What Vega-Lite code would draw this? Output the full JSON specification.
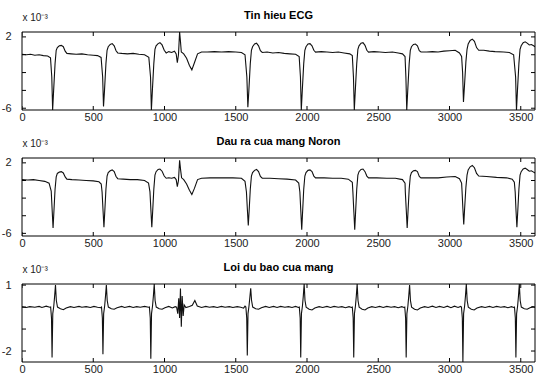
{
"$schema": "https://vega.github.io/schema/vega-lite/v6.json",
"padding": {"left": 1, "top": 10, "right": 2, "bottom": 2},
"background": "white",
"config": {
 "font": "Liberation Sans",
 "view": {"stroke": null},
 "axis": {"domain": false, "grid": false, "ticks": false, "labelFont": "Liberation Sans", "labelFontSize": 11, "labelColor": "#222", "titleFont": "Liberation Sans", "labelOverlap": false, "labelFlush": false},
 "axisX": {"labelPadding": 1},
 "axisY": {"labelPadding": 11},
 "title": {"anchor": "middle", "frame": "group", "offset": -9, "fontSize": 11, "fontWeight": "bold", "font": "Liberation Sans", "color": "#000"},
 "concat": {"spacing": 48}
},
"bounds": "flush",
"datasets": {
 "frame": [{"k": 1}],
 "xt": [{"v":0},{"v":500},{"v":1000},{"v":1500},{"v":2000},{"v":2500},{"v":3000},{"v":3500}],
 "yt1": [{"v":-6},{"v":-4},{"v":-2},{"v":0},{"v":2}],
 "yt3": [{"v":-2},{"v":-1},{"v":0},{"v":1}],
 "ecg": [
 {"x":0,"y":0.05},{"x":30,"y":0.0},{"x":60,"y":0.05},{"x":90,"y":-0.05},{"x":120,"y":0.0},{"x":150,"y":-0.1},{"x":180,"y":-0.15},{"x":200,"y":-0.35},
 {"x":209,"y":-2.5},{"x":215,"y":-6.2},{"x":222,"y":-4},{"x":232,"y":-1},{"x":240,"y":0.5},{"x":248,"y":0.8},{"x":262,"y":1.0},{"x":276,"y":1.05},{"x":290,"y":0.9},{"x":303,"y":0.4},{"x":315,"y":0.15},{"x":345,"y":0.1},{"x":380,"y":0.05},{"x":420,"y":0.1},{"x":460,"y":0.0},{"x":500,"y":-0.05},{"x":530,"y":-0.1},{"x":555,"y":-0.3},
 {"x":566,"y":-2.5},{"x":572,"y":-5.8},{"x":579,"y":-4},{"x":589,"y":-1},{"x":597,"y":0.5},{"x":605,"y":0.9},{"x":619,"y":1.15},{"x":633,"y":1.25},{"x":647,"y":1.0},{"x":660,"y":0.45},{"x":672,"y":0.2},{"x":700,"y":0.15},{"x":740,"y":0.1},{"x":780,"y":0.15},{"x":820,"y":0.05},{"x":860,"y":0.0},{"x":890,"y":-0.3},
 {"x":902,"y":-2.5},{"x":908,"y":-6.2},{"x":915,"y":-4},{"x":925,"y":-1},{"x":933,"y":0.6},{"x":941,"y":1.0},{"x":955,"y":1.25},{"x":968,"y":1.35},{"x":983,"y":1.1},{"x":998,"y":0.5},{"x":1012,"y":0.2},{"x":1030,"y":0.35},{"x":1050,"y":0.25},{"x":1070,"y":0.4},{"x":1082,"y":0.1},{"x":1090,"y":-0.9},{"x":1098,"y":0.0},{"x":1106,"y":2.55},{"x":1112,"y":1.5},{"x":1118,"y":0.3},{"x":1135,"y":0.1},{"x":1155,"y":-0.4},{"x":1175,"y":-1.2},{"x":1192,"y":-1.7},{"x":1210,"y":-0.9},{"x":1232,"y":0.1},{"x":1260,"y":0.3},{"x":1300,"y":0.3},{"x":1350,"y":0.35},{"x":1400,"y":0.3},{"x":1450,"y":0.35},{"x":1500,"y":0.3},{"x":1540,"y":0.25},{"x":1565,"y":0.0},
 {"x":1578,"y":-2.5},{"x":1585,"y":-5.9},{"x":1592,"y":-4},{"x":1602,"y":-1},{"x":1610,"y":0.5},{"x":1618,"y":0.9},{"x":1632,"y":1.2},{"x":1646,"y":1.3},{"x":1660,"y":1.0},{"x":1673,"y":0.45},{"x":1686,"y":0.25},{"x":1720,"y":0.3},{"x":1760,"y":0.2},{"x":1800,"y":0.25},{"x":1840,"y":0.15},{"x":1880,"y":0.1},{"x":1920,"y":0.05},{"x":1945,"y":-0.2},
 {"x":1954,"y":-2.5},{"x":1960,"y":-6.2},{"x":1967,"y":-4},{"x":1977,"y":-1},{"x":1985,"y":0.5},{"x":1993,"y":0.9},{"x":2007,"y":1.2},{"x":2021,"y":1.25},{"x":2035,"y":1.0},{"x":2048,"y":0.5},{"x":2060,"y":0.3},{"x":2100,"y":0.35},{"x":2140,"y":0.3},{"x":2180,"y":0.25},{"x":2220,"y":0.3},{"x":2260,"y":0.2},{"x":2300,"y":0.1},{"x":2318,"y":-0.1},
 {"x":2326,"y":-2.5},{"x":2332,"y":-6.2},{"x":2339,"y":-4},{"x":2349,"y":-1},{"x":2357,"y":0.6},{"x":2365,"y":1.0},{"x":2379,"y":1.3},{"x":2393,"y":1.35},{"x":2407,"y":1.05},{"x":2420,"y":0.5},{"x":2432,"y":0.3},{"x":2470,"y":0.35},{"x":2510,"y":0.3},{"x":2550,"y":0.25},{"x":2600,"y":0.3},{"x":2640,"y":0.2},{"x":2670,"y":0.1},{"x":2688,"y":-0.2},
 {"x":2694,"y":-2.5},{"x":2700,"y":-6.2},{"x":2707,"y":-4},{"x":2717,"y":-1},{"x":2725,"y":0.5},{"x":2733,"y":0.9},{"x":2747,"y":1.15},{"x":2761,"y":1.2},{"x":2775,"y":1.0},{"x":2788,"y":0.45},{"x":2800,"y":0.3},{"x":2840,"y":0.3},{"x":2880,"y":0.35},{"x":2920,"y":0.3},{"x":2960,"y":0.4},{"x":3000,"y":0.45},{"x":3040,"y":0.5},{"x":3070,"y":0.2},{"x":3085,"y":-0.2},
 {"x":3092,"y":-2.0},{"x":3098,"y":-5.3},{"x":3105,"y":-3.5},{"x":3115,"y":-0.8},{"x":3123,"y":0.6},{"x":3131,"y":1.2},{"x":3145,"y":1.6},{"x":3160,"y":1.75},{"x":3175,"y":1.5},{"x":3190,"y":0.8},{"x":3205,"y":0.5},{"x":3240,"y":0.5},{"x":3280,"y":0.4},{"x":3320,"y":0.35},{"x":3380,"y":0.3},{"x":3420,"y":0.25},{"x":3450,"y":0.0},
 {"x":3464,"y":-2.5},{"x":3470,"y":-6.2},{"x":3477,"y":-4},{"x":3487,"y":-1},{"x":3495,"y":0.6},{"x":3503,"y":1.0},{"x":3517,"y":1.35},{"x":3531,"y":1.45},{"x":3545,"y":1.3},{"x":3560,"y":1.1},{"x":3575,"y":1.15},{"x":3590,"y":1.0},{"x":3600,"y":0.9}
 ],
 "out": [
 {"x":0,"y":0.1},{"x":40,"y":0.05},{"x":80,"y":0.1},{"x":120,"y":0.0},{"x":160,"y":-0.1},{"x":190,"y":-0.3},
 {"x":205,"y":-1.2},{"x":212,"y":-3.5},{"x":218,"y":-5.4},{"x":224,"y":-3.5},{"x":232,"y":-1.0},{"x":240,"y":0.4},{"x":248,"y":0.8},{"x":262,"y":0.95},{"x":276,"y":1.0},{"x":290,"y":0.85},{"x":303,"y":0.4},{"x":315,"y":0.15},{"x":350,"y":0.1},{"x":400,"y":0.05},{"x":450,"y":0.0},{"x":500,"y":-0.05},{"x":540,"y":-0.15},{"x":556,"y":-0.4},
 {"x":562,"y":-1.3},{"x":569,"y":-3.5},{"x":575,"y":-5.3},{"x":581,"y":-3.5},{"x":589,"y":-1},{"x":597,"y":0.5},{"x":605,"y":0.9},{"x":619,"y":1.1},{"x":633,"y":1.2},{"x":647,"y":1.0},{"x":660,"y":0.45},{"x":672,"y":0.2},{"x":710,"y":0.15},{"x":760,"y":0.1},{"x":810,"y":0.1},{"x":860,"y":0.0},{"x":888,"y":-0.3},
 {"x":898,"y":-1.3},{"x":905,"y":-3.5},{"x":911,"y":-5.3},{"x":917,"y":-3.5},{"x":925,"y":-1},{"x":933,"y":0.6},{"x":941,"y":1.0},{"x":955,"y":1.25},{"x":968,"y":1.3},{"x":983,"y":1.05},{"x":998,"y":0.5},{"x":1012,"y":0.25},{"x":1030,"y":0.3},{"x":1050,"y":0.25},{"x":1070,"y":0.35},{"x":1082,"y":0.1},{"x":1090,"y":-0.7},{"x":1098,"y":0.0},{"x":1106,"y":2.3},{"x":1113,"y":1.2},{"x":1120,"y":0.3},{"x":1135,"y":0.1},{"x":1155,"y":-0.4},{"x":1175,"y":-1.1},{"x":1192,"y":-1.6},{"x":1210,"y":-0.9},{"x":1232,"y":0.1},{"x":1260,"y":0.25},{"x":1320,"y":0.3},{"x":1400,"y":0.3},{"x":1480,"y":0.3},{"x":1540,"y":0.25},{"x":1565,"y":-0.1},
 {"x":1575,"y":-1.3},{"x":1582,"y":-3.4},{"x":1588,"y":-5.1},{"x":1594,"y":-3.4},{"x":1602,"y":-1},{"x":1610,"y":0.5},{"x":1618,"y":0.9},{"x":1632,"y":1.15},{"x":1646,"y":1.25},{"x":1660,"y":1.0},{"x":1673,"y":0.45},{"x":1686,"y":0.25},{"x":1740,"y":0.25},{"x":1800,"y":0.2},{"x":1860,"y":0.15},{"x":1920,"y":0.05},{"x":1942,"y":-0.3},
 {"x":1950,"y":-1.3},{"x":1957,"y":-3.6},{"x":1963,"y":-5.6},{"x":1969,"y":-3.6},{"x":1977,"y":-1},{"x":1985,"y":0.5},{"x":1993,"y":0.9},{"x":2007,"y":1.15},{"x":2021,"y":1.2},{"x":2035,"y":1.0},{"x":2048,"y":0.5},{"x":2060,"y":0.3},{"x":2120,"y":0.3},{"x":2180,"y":0.25},{"x":2240,"y":0.25},{"x":2290,"y":0.15},{"x":2318,"y":-0.2},
 {"x":2322,"y":-1.3},{"x":2329,"y":-3.6},{"x":2335,"y":-5.6},{"x":2341,"y":-3.6},{"x":2349,"y":-1},{"x":2357,"y":0.6},{"x":2365,"y":1.0},{"x":2379,"y":1.25},{"x":2393,"y":1.3},{"x":2407,"y":1.0},{"x":2420,"y":0.5},{"x":2432,"y":0.3},{"x":2490,"y":0.3},{"x":2560,"y":0.25},{"x":2620,"y":0.25},{"x":2670,"y":0.1},{"x":2688,"y":-0.3},
 {"x":2690,"y":-1.3},{"x":2697,"y":-3.5},{"x":2703,"y":-5.4},{"x":2709,"y":-3.5},{"x":2717,"y":-1},{"x":2725,"y":0.5},{"x":2733,"y":0.9},{"x":2747,"y":1.1},{"x":2761,"y":1.15},{"x":2775,"y":1.0},{"x":2788,"y":0.45},{"x":2800,"y":0.3},{"x":2860,"y":0.3},{"x":2920,"y":0.3},{"x":2980,"y":0.4},{"x":3040,"y":0.45},{"x":3070,"y":0.2},{"x":3085,"y":-0.3},
 {"x":3088,"y":-1.2},{"x":3094,"y":-3.2},{"x":3100,"y":-5.0},{"x":3106,"y":-3.2},{"x":3115,"y":-0.8},{"x":3123,"y":0.6},{"x":3131,"y":1.2},{"x":3145,"y":1.55},{"x":3160,"y":1.7},{"x":3175,"y":1.45},{"x":3190,"y":0.8},{"x":3205,"y":0.5},{"x":3260,"y":0.45},{"x":3330,"y":0.35},{"x":3400,"y":0.3},{"x":3440,"y":0.15},{"x":3455,"y":-0.2},
 {"x":3461,"y":-1.3},{"x":3467,"y":-3.5},{"x":3473,"y":-5.3},{"x":3479,"y":-3.5},{"x":3487,"y":-1},{"x":3495,"y":0.6},{"x":3503,"y":1.0},{"x":3517,"y":1.3},{"x":3531,"y":1.4},{"x":3545,"y":1.25},{"x":3560,"y":1.05},{"x":3575,"y":1.1},{"x":3590,"y":0.95},{"x":3600,"y":0.85}
 ],
 "err": [
 {"x":0,"y":0.01},{"x":30,"y":-0.02},{"x":55,"y":0.02},{"x":90,"y":-0.01},{"x":120,"y":0.03},{"x":140,"y":-0.02},{"x":170,"y":0.04},{"x":195,"y":-0.01},
 {"x":201,"y":0.0},{"x":207,"y":-0.5},{"x":211,"y":-2.3},{"x":216,"y":-0.3},{"x":223,"y":0.05},{"x":229,"y":0.5},{"x":235,"y":1.0},{"x":241,"y":0.3},{"x":249,"y":0.0},{"x":270,"y":-0.08},{"x":290,"y":-0.12},{"x":310,"y":-0.04},{"x":340,"y":0.02},{"x":365,"y":-0.02},{"x":400,"y":0.03},{"x":420,"y":-0.01},{"x":450,"y":0.02},{"x":480,"y":-0.02},{"x":505,"y":0.03},{"x":530,"y":-0.01},{"x":552,"y":-0.03},
 {"x":558,"y":0.0},{"x":564,"y":-0.5},{"x":568,"y":-2.15},{"x":573,"y":-0.3},{"x":580,"y":0.05},{"x":586,"y":0.5},{"x":592,"y":1.0},{"x":598,"y":0.3},{"x":606,"y":0.0},{"x":627,"y":-0.08},{"x":647,"y":-0.1},{"x":667,"y":-0.03},{"x":700,"y":0.03},{"x":720,"y":-0.02},{"x":755,"y":0.03},{"x":780,"y":-0.02},{"x":805,"y":0.02},{"x":830,"y":-0.01},{"x":860,"y":0.03},{"x":888,"y":-0.01},
 {"x":894,"y":0.0},{"x":900,"y":-0.5},{"x":904,"y":-2.35},{"x":909,"y":-0.3},{"x":916,"y":0.05},{"x":922,"y":0.5},{"x":928,"y":1.05},{"x":934,"y":0.3},{"x":942,"y":0.0},{"x":963,"y":-0.08},{"x":983,"y":-0.1},{"x":1003,"y":-0.03},{"x":1030,"y":0.03},{"x":1055,"y":-0.04},{"x":1075,"y":0.02},{"x":1085,"y":0.0},{"x":1093,"y":-0.3},{"x":1100,"y":0.4},{"x":1106,"y":-0.5},{"x":1112,"y":0.85},{"x":1118,"y":-0.9},{"x":1124,"y":0.5},{"x":1131,"y":-0.4},{"x":1138,"y":0.1},{"x":1150,"y":-0.02},{"x":1175,"y":0.03},{"x":1195,"y":0.08},{"x":1213,"y":0.3},{"x":1230,"y":0.05},{"x":1260,"y":-0.02},{"x":1290,"y":0.03},{"x":1315,"y":-0.01},{"x":1345,"y":0.02},{"x":1370,"y":-0.02},{"x":1400,"y":0.03},{"x":1425,"y":-0.01},{"x":1455,"y":0.02},{"x":1480,"y":-0.02},{"x":1510,"y":0.02},{"x":1535,"y":-0.01},{"x":1555,"y":-0.05},{"x":1565,"y":0.04},
 {"x":1571,"y":0.0},{"x":1577,"y":-0.5},{"x":1581,"y":-2.2},{"x":1586,"y":-0.3},{"x":1593,"y":0.05},{"x":1599,"y":0.45},{"x":1605,"y":0.85},{"x":1611,"y":0.3},{"x":1619,"y":0.0},{"x":1640,"y":-0.08},{"x":1660,"y":-0.1},{"x":1680,"y":-0.03},{"x":1710,"y":0.03},{"x":1735,"y":-0.02},{"x":1765,"y":0.03},{"x":1790,"y":-0.02},{"x":1815,"y":0.03},{"x":1845,"y":-0.01},{"x":1870,"y":0.02},{"x":1895,"y":-0.02},{"x":1920,"y":0.03},{"x":1940,"y":-0.02},
 {"x":1946,"y":0.0},{"x":1952,"y":-0.5},{"x":1956,"y":-2.3},{"x":1961,"y":-0.3},{"x":1968,"y":0.05},{"x":1974,"y":0.5},{"x":1980,"y":1.05},{"x":1986,"y":0.3},{"x":1994,"y":0.0},{"x":2015,"y":-0.1},{"x":2035,"y":-0.13},{"x":2055,"y":-0.04},{"x":2085,"y":0.02},{"x":2110,"y":-0.02},{"x":2140,"y":0.03},{"x":2165,"y":-0.02},{"x":2190,"y":0.03},{"x":2220,"y":-0.01},{"x":2245,"y":0.02},{"x":2270,"y":-0.03},{"x":2295,"y":0.02},{"x":2312,"y":-0.02},
 {"x":2318,"y":0.0},{"x":2324,"y":-0.5},{"x":2328,"y":-2.3},{"x":2333,"y":-0.3},{"x":2340,"y":0.05},{"x":2346,"y":0.5},{"x":2352,"y":1.05},{"x":2358,"y":0.3},{"x":2366,"y":0.0},{"x":2387,"y":-0.1},{"x":2407,"y":-0.13},{"x":2427,"y":-0.04},{"x":2455,"y":0.02},{"x":2480,"y":-0.02},{"x":2510,"y":0.03},{"x":2535,"y":-0.02},{"x":2560,"y":0.03},{"x":2590,"y":-0.01},{"x":2615,"y":0.02},{"x":2640,"y":-0.03},{"x":2665,"y":0.02},{"x":2680,"y":-0.02},
 {"x":2686,"y":0.0},{"x":2692,"y":-0.5},{"x":2696,"y":-2.3},{"x":2701,"y":-0.3},{"x":2708,"y":0.05},{"x":2714,"y":0.5},{"x":2720,"y":1.0},{"x":2726,"y":0.3},{"x":2734,"y":0.0},{"x":2755,"y":-0.1},{"x":2775,"y":-0.13},{"x":2795,"y":-0.04},{"x":2825,"y":0.02},{"x":2850,"y":-0.02},{"x":2880,"y":0.04},{"x":2905,"y":-0.02},{"x":2930,"y":0.03},{"x":2960,"y":-0.02},{"x":2985,"y":0.04},{"x":3010,"y":-0.03},{"x":3035,"y":0.04},{"x":3060,"y":-0.02},{"x":3078,"y":0.03},
 {"x":3084,"y":0.0},{"x":3090,"y":-0.5},{"x":3094,"y":-2.5},{"x":3099,"y":-0.3},{"x":3106,"y":0.05},{"x":3112,"y":0.5},{"x":3118,"y":1.05},{"x":3124,"y":0.3},{"x":3132,"y":0.0},{"x":3153,"y":-0.1},{"x":3173,"y":-0.13},{"x":3193,"y":-0.04},{"x":3225,"y":0.02},{"x":3250,"y":-0.02},{"x":3280,"y":0.03},{"x":3305,"y":-0.02},{"x":3330,"y":0.03},{"x":3360,"y":-0.01},{"x":3385,"y":0.02},{"x":3410,"y":-0.03},{"x":3435,"y":0.02},{"x":3450,"y":-0.02},
 {"x":3456,"y":0.0},{"x":3462,"y":-0.5},{"x":3466,"y":-2.3},{"x":3471,"y":-0.3},{"x":3478,"y":0.05},{"x":3484,"y":0.5},{"x":3490,"y":1.05},{"x":3496,"y":0.3},{"x":3504,"y":0.0},{"x":3525,"y":-0.08},{"x":3545,"y":-0.1},{"x":3565,"y":-0.03},{"x":3585,"y":0.02},{"x":3600,"y":-0.01}
 ]
},
"vconcat": [
 {
  "title": {"text": "Tin hieu ECG"},
  "width": 513, "height": 78,
  "layer": [
   {"data": {"name": "ecg"},
    "mark": {"type": "line", "color": "#111", "strokeWidth": 1.1, "clip": true},
    "encoding": {
     "x": {"field": "x", "type": "quantitative", "scale": {"domain": [0, 3600], "nice": false, "zero": false}, "axis": {"values": [0,500,1000,1500,2000,2500,3000,3500], "title": null, "labelOverlap": false, "format": "d"}},
     "y": {"field": "y", "type": "quantitative", "scale": {"domain": [-6.2, 2.55], "nice": false, "zero": false}, "axis": {"values": [-6,-4,-2,0,2], "labelOverlap": false, "labelExpr": "datum.value < 0 ? '-' + abs(datum.value) : '' + datum.value", "title": "x 10⁻³", "titleAngle": 0, "titleAlign": "left", "titleBaseline": "alphabetic", "titleX": 0, "titleY": -12, "titleFontSize": 10, "titleFontWeight": "normal", "titleColor": "#222"}}
    }},
   {"data": {"name": "xt"}, "mark": {"type": "tick", "orient": "vertical", "size": 8, "thickness": 1, "color": "#000", "opacity": 1, "clip": true},
    "encoding": {"x": {"field": "v", "type": "quantitative"}, "y": {"datum": -6.2}}},
   {"data": {"name": "xt"}, "mark": {"type": "tick", "orient": "vertical", "size": 8, "thickness": 1, "color": "#000", "opacity": 1, "clip": true},
    "encoding": {"x": {"field": "v", "type": "quantitative"}, "y": {"datum": 2.55}}},
   {"data": {"name": "yt1"}, "mark": {"type": "tick", "orient": "horizontal", "size": 8, "thickness": 1, "color": "#000", "opacity": 1, "clip": true},
    "encoding": {"y": {"field": "v", "type": "quantitative"}, "x": {"datum": 0}}},
   {"data": {"name": "yt1"}, "mark": {"type": "tick", "orient": "horizontal", "size": 8, "thickness": 1, "color": "#000", "opacity": 1, "clip": true},
    "encoding": {"y": {"field": "v", "type": "quantitative"}, "x": {"datum": 3600}}},
   {"data": {"name": "frame"},
    "mark": {"type": "rect", "fill": null, "stroke": "#000", "strokeWidth": 1},
    "encoding": {"x": {"datum": 0}, "x2": {"datum": 3600}, "y": {"datum": -6.2}, "y2": {"datum": 2.55}}}
  ]
 },
 {
  "title": {"text": "Dau ra cua mang Noron"},
  "width": 513, "height": 78,
  "layer": [
   {"data": {"name": "out"},
    "mark": {"type": "line", "color": "#111", "strokeWidth": 1.1, "clip": true},
    "encoding": {
     "x": {"field": "x", "type": "quantitative", "scale": {"domain": [0, 3600], "nice": false, "zero": false}, "axis": {"values": [0,500,1000,1500,2000,2500,3000,3500], "title": null, "labelOverlap": false, "format": "d"}},
     "y": {"field": "y", "type": "quantitative", "scale": {"domain": [-6.3, 2.55], "nice": false, "zero": false}, "axis": {"values": [-6,-4,-2,0,2], "labelOverlap": false, "labelExpr": "datum.value < 0 ? '-' + abs(datum.value) : '' + datum.value", "title": "x 10⁻³", "titleAngle": 0, "titleAlign": "left", "titleBaseline": "alphabetic", "titleX": 0, "titleY": -12, "titleFontSize": 10, "titleFontWeight": "normal", "titleColor": "#222"}}
    }},
   {"data": {"name": "xt"}, "mark": {"type": "tick", "orient": "vertical", "size": 8, "thickness": 1, "color": "#000", "opacity": 1, "clip": true},
    "encoding": {"x": {"field": "v", "type": "quantitative"}, "y": {"datum": -6.3}}},
   {"data": {"name": "xt"}, "mark": {"type": "tick", "orient": "vertical", "size": 8, "thickness": 1, "color": "#000", "opacity": 1, "clip": true},
    "encoding": {"x": {"field": "v", "type": "quantitative"}, "y": {"datum": 2.55}}},
   {"data": {"name": "yt1"}, "mark": {"type": "tick", "orient": "horizontal", "size": 8, "thickness": 1, "color": "#000", "opacity": 1, "clip": true},
    "encoding": {"y": {"field": "v", "type": "quantitative"}, "x": {"datum": 0}}},
   {"data": {"name": "yt1"}, "mark": {"type": "tick", "orient": "horizontal", "size": 8, "thickness": 1, "color": "#000", "opacity": 1, "clip": true},
    "encoding": {"y": {"field": "v", "type": "quantitative"}, "x": {"datum": 3600}}},
   {"data": {"name": "frame"},
    "mark": {"type": "rect", "fill": null, "stroke": "#000", "strokeWidth": 1},
    "encoding": {"x": {"datum": 0}, "x2": {"datum": 3600}, "y": {"datum": -6.3}, "y2": {"datum": 2.55}}}
  ]
 },
 {
  "title": {"text": "Loi du bao cua mang"},
  "width": 513, "height": 78,
  "layer": [
   {"data": {"name": "err"},
    "mark": {"type": "line", "color": "#111", "strokeWidth": 1.1, "clip": true},
    "encoding": {
     "x": {"field": "x", "type": "quantitative", "scale": {"domain": [0, 3600], "nice": false, "zero": false}, "axis": {"values": [0,500,1000,1500,2000,2500,3000,3500], "title": null, "labelOverlap": false, "format": "d"}},
     "y": {"field": "y", "type": "quantitative", "scale": {"domain": [-2.5, 1.05], "nice": false, "zero": false}, "axis": {"values": [-2,-1,0,1], "labelOverlap": false, "labelExpr": "datum.value < 0 ? '-' + abs(datum.value) : '' + datum.value", "title": "x 10⁻³", "titleAngle": 0, "titleAlign": "left", "titleBaseline": "alphabetic", "titleX": 0, "titleY": -12, "titleFontSize": 10, "titleFontWeight": "normal", "titleColor": "#222"}}
    }},
   {"data": {"name": "xt"}, "mark": {"type": "tick", "orient": "vertical", "size": 8, "thickness": 1, "color": "#000", "opacity": 1, "clip": true},
    "encoding": {"x": {"field": "v", "type": "quantitative"}, "y": {"datum": -2.5}}},
   {"data": {"name": "xt"}, "mark": {"type": "tick", "orient": "vertical", "size": 8, "thickness": 1, "color": "#000", "opacity": 1, "clip": true},
    "encoding": {"x": {"field": "v", "type": "quantitative"}, "y": {"datum": 1.05}}},
   {"data": {"name": "yt3"}, "mark": {"type": "tick", "orient": "horizontal", "size": 8, "thickness": 1, "color": "#000", "opacity": 1, "clip": true},
    "encoding": {"y": {"field": "v", "type": "quantitative"}, "x": {"datum": 0}}},
   {"data": {"name": "yt3"}, "mark": {"type": "tick", "orient": "horizontal", "size": 8, "thickness": 1, "color": "#000", "opacity": 1, "clip": true},
    "encoding": {"y": {"field": "v", "type": "quantitative"}, "x": {"datum": 3600}}},
   {"data": {"name": "frame"},
    "mark": {"type": "rect", "fill": null, "stroke": "#000", "strokeWidth": 1},
    "encoding": {"x": {"datum": 0}, "x2": {"datum": 3600}, "y": {"datum": -2.5}, "y2": {"datum": 1.05}}}
  ]
 }
]
}
